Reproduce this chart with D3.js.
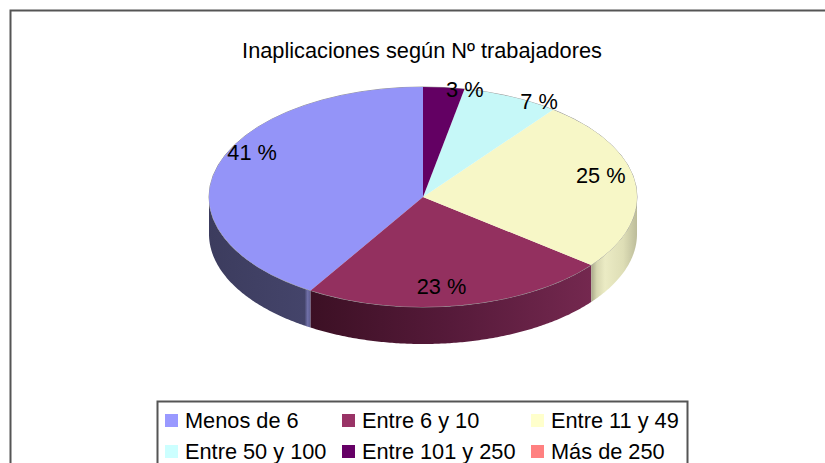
<!DOCTYPE html>
<html>
<head>
	<title>Inaplicaciones</title>
	<meta charset='utf-8'>
	<style>
		html, body {
			margin: 0;
			background: #fff;
			overflow: hidden;
		}

		text {
			font-family: 'Liberation Sans', Arial, sans-serif;
			font-size: 21.75px;
			fill: #000;
		}

		.frame, .legend-box {
			fill: #fff;
			stroke: #555;
			stroke-width: 2px;
		}
	</style>
</head>
<body>

<script src='https://d3js.org/d3.v7.min.js'></script>
<script>
	'use strict';

	const categories = ['Menos de 6', 'Entre 6 y 10', 'Entre 11 y 49', 'Entre 50 y 100', 'Entre 101 y 250', 'Más de 250'];
	const shares = [41.2, 23.2, 25.2, 7.3, 3.1, 0];
	const chartTitle = 'Inaplicaciones según Nº trabajadores';

	const W = 825;
	const H = 463;
	const cx = 423;
	const cy = 197;
	const rx = 214;
	const ry = 110;
	const depth = 37;

	// colores de leyenda / tapa / lateral
	const legendColors = ['#9999ff', '#993366', '#ffffcc', '#ccffff', '#660066', '#ff8080'];
	const topColors = ['#9494f8', '#93305f', '#f7f7c7', '#c6f8f8', '#630063', '#f87c7c'];
	const wallStops = [
		[[0, '#3c3c5e'], [0.94, '#44446a'], [0.97, '#7070a8'], [1, '#5c5c90']],
		[[0, '#3c1024'], [0.5, '#561a3a'], [1, '#74284f']],
		[[0, '#a8a888'], [0.12, '#d6d6b0'], [0.3, '#ebebc4'], [0.7, '#dedeb6'], [1, '#bcbc9a']],
		[[0, '#888'], [1, '#888']],
		[[0, '#888'], [1, '#888']],
		[[0, '#888'], [1, '#888']]
	];
	// ajuste de las etiquetas respecto al borde de la elipse
	const labelNudge = [[35, -14], [-19, -18], [-34.5, -7], [28, 5], [21, 2.5], [0, 0]];

	const svg = d3.select('body').append('svg')
		.attr('width', W)
		.attr('height', H);

	svg.append('rect')
		.attr('class', 'frame')
		.attr('x', 10.5)
		.attr('y', 10.5)
		.attr('width', W + 20)
		.attr('height', H + 20);

	svg.append('text')
		.attr('x', 422)
		.attr('y', 58)
		.attr('text-anchor', 'middle')
		.text(chartTitle);

	// el pastel va en sentido antihorario desde arriba
	const pie = d3.pie().sort(null).startAngle(0).endAngle(-2 * Math.PI);
	const slices = pie(shares);

	const px = d3.scaleLinear().domain([-1, 1]).range([cx - rx, cx + rx]);
	const py = d3.scaleLinear().domain([-1, 1]).range([cy - ry, cy + ry]);

	const defs = svg.append('defs');
	wallStops.forEach(function(stops, i) {
		const s = slices[i];
		const lo = Math.min(s.startAngle, s.endAngle);
		const hi = Math.max(s.startAngle, s.endAngle);
		const from = Math.max(lo, -1.5 * Math.PI);
		const to = Math.min(hi, -0.5 * Math.PI);
		const xs = [px(Math.sin(from)), px(Math.sin(to))];
		const g = defs.append('linearGradient')
			.attr('id', 'wall' + i)
			.attr('gradientUnits', 'userSpaceOnUse')
			.attr('x1', d3.min(xs)).attr('x2', d3.max(xs))
			.attr('y1', 0).attr('y2', 0);
		stops.forEach(function(st) {
			g.append('stop').attr('offset', st[0]).attr('stop-color', st[1]);
		});
	});

	const wallLine = d3.line().x(function(d) {return d[0];}).y(function(d) {return d[1];});

	// lateral: solo la parte delantera de cada porción
	slices.forEach(function(s, i) {
		const lo = Math.max(Math.min(s.startAngle, s.endAngle), -1.5 * Math.PI);
		const hi = Math.min(Math.max(s.startAngle, s.endAngle), -0.5 * Math.PI);
		if (hi <= lo) {
			return;
		}
		const angles = d3.range(lo, hi, 0.01).concat([hi]);
		const upper = angles.map(function(a) {return [px(Math.sin(a)), py(-Math.cos(a))];});
		const lower = angles.slice().reverse().map(function(a) {return [px(Math.sin(a)), py(-Math.cos(a)) + depth];});
		svg.append('path')
			.attr('d', wallLine(upper.concat(lower)) + 'Z')
			.attr('fill', 'url(#wall' + i + ')');
	});

	// tapa
	const arc = d3.arc().innerRadius(0).outerRadius(1);
	svg.append('circle')
		.attr('cx', 0).attr('cy', 0).attr('r', 1)
		.attr('transform', 'translate(' + cx + ',' + cy + ') scale(' + rx + ',' + ry + ')')
		.attr('fill', 'none')
		.attr('stroke', '#999')
		.attr('stroke-width', 1)
		.attr('vector-effect', 'non-scaling-stroke');
	svg.append('g')
		.attr('transform', 'translate(' + cx + ',' + cy + ') scale(' + rx + ',' + ry + ')')
		.selectAll('path')
		.data(slices)
		.join('path')
		.attr('d', arc)
		.attr('fill', function(d, i) {return topColors[i];});

	// etiquetas
	svg.append('g')
		.selectAll('text')
		.data(slices.filter(function(d) {return d.value > 0;}))
		.join('text')
		.attr('x', function(d) {
			const mid = (d.startAngle + d.endAngle) / 2;
			return px(Math.sin(mid)) + labelNudge[d.index][0];
		})
		.attr('y', function(d) {
			const mid = (d.startAngle + d.endAngle) / 2;
			return py(-Math.cos(mid)) + labelNudge[d.index][1] + 7;
		})
		.attr('text-anchor', 'middle')
		.text(function(d) {return Math.round(d.value) + ' %';});

	// leyenda
	const colX = [165, 342, 531];
	const rowY = [414, 445];

	svg.append('rect')
		.attr('class', 'legend-box')
		.attr('x', 157.5)
		.attr('y', 401.5)
		.attr('width', 530)
		.attr('height', 80);

	const legend = svg.append('g')
		.selectAll('g')
		.data(categories)
		.join('g')
		.attr('transform', function(d, i) {
			return 'translate(' + colX[i % 3] + ',' + rowY[Math.floor(i / 3)] + ')';
		});

	legend.append('rect')
		.attr('width', 13)
		.attr('height', 13)
		.attr('fill', function(d, i) {return legendColors[i];});

	legend.append('text')
		.attr('x', 20)
		.attr('y', 14)
		.text(function(d) {return d;});
</script>
</body>
</html>
